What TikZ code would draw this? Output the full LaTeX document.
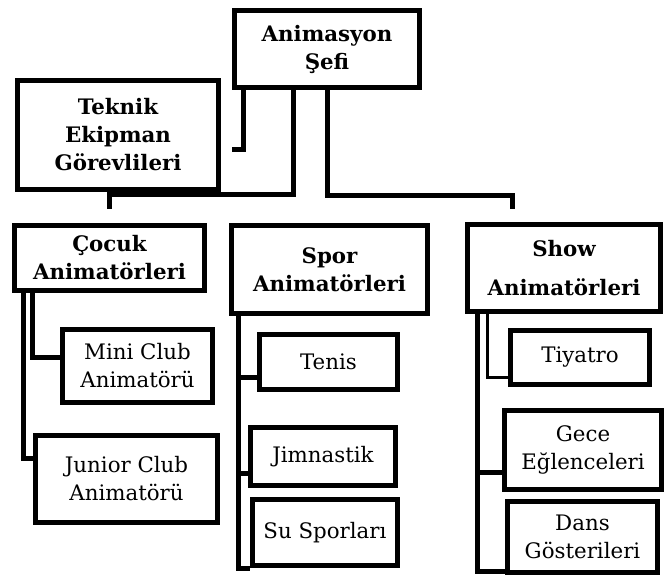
\documentclass[tikz,border=0pt]{standalone}
\usepackage{fontspec}
\setmainfont{DejaVu Serif}
\usetikzlibrary{calc}

\begin{document}
\begin{tikzpicture}[
    x=0.75pt, y=-0.75pt,
    box/.style={draw, rectangle, line width=3.75pt, inner sep=0pt,
                align=center, font=\fontsize{16pt}{21pt}\selectfont},
    unit/.style={box, font=\fontsize{16pt}{21pt}\selectfont\bfseries},
    team/.style={box},
    link/.style={line width=3.75pt},
    thinlink/.style={line width=2.25pt},
]
\useasboundingbox (0,0) rectangle (664,577);

% ============================================================
% Top level
% ============================================================
\node[unit, minimum width=138.75pt, minimum height=57.75pt] (chef) at (327,49) {Animasyon\\Şefi};
\node[unit, minimum width=150.75pt, minimum height=81.75pt] (tech) at (118,135) {Teknik\\Ekipman\\Görevlileri};

% ============================================================
% Groups
% ============================================================
\node[unit, minimum width=142.5pt, minimum height=48.75pt] (cocuk) at (109.5,258) {Çocuk\\Animatörleri};
\node[unit, minimum width=147pt, minimum height=66pt] (spor) at (329.5,269.5) {Spor\\Animatörleri};
\node[unit, minimum width=144.75pt, minimum height=65.25pt] (show) at (564,268) {Show\\[8pt]Animatörleri};

% ============================================================
% Teams
% ============================================================
\node[team, minimum width=112.5pt, minimum height=54.75pt] (mini) at (137.5,366) {Mini Club\\Animatörü};
\node[team, minimum width=136.5pt, minimum height=65.25pt] (junior) at (126.5,479) {Junior Club\\Animatörü};

\node[team, minimum width=103.5pt, minimum height=41.25pt] (tenis) at (328.5,362) {Tenis};
\node[team, minimum width=108.75pt, minimum height=43.5pt] (jimn) at (323,456.5) {Jimnastik};
\node[team, minimum width=108.75pt, minimum height=49.5pt] (su) at (325,532.5) {Su Sporları};

\node[team, minimum width=104.25pt, minimum height=40.5pt] (tiyatro) at (580,357.5) {Tiyatro};
\node[team, minimum width=117.75pt, minimum height=59.25pt] (gece) at (583,450) {Gece\\Eğlenceleri};
\node[team, minimum width=112.5pt, minimum height=53.25pt] (dans) at (582.5,537) {Dans\\Gösterileri};

% ============================================================
% Links from the chef
% ============================================================
\coordinate (techtab) at ($(tech.east)+(11,15)$);
\draw[link] ($(chef.south)+(-84,0)$) |- (techtab);
\draw[link] ($(chef.south)+(-34,0)$) |- ($(cocuk.north)+(0,-28)$) -- ($(cocuk.north)+(0,-14)$);
\draw[link] (chef.south) |- ($(show.north)+(-52,-26)$) -- ($(show.north)+(-52,-13)$);

% ============================================================
% Links inside the groups
% ============================================================
\draw[link] ($(cocuk.south)+(-77.5,0)$) |- ($(mini.west)+(0,-9)$);
\draw[link] ($(cocuk.south)+(-86.5,0)$) |- ($(junior.west)+(0,-21)$);

\coordinate (sporrail) at ($(spor.south)+(-91.5,0)$);
\draw[link] (sporrail) |- ($(tenis.west)+(0,15)$);
\draw[link] (sporrail) |- ($(jimn.west)+(0,16.5)$);
\draw[link] (sporrail) |- (su.south west);

\coordinate (showrail) at ($(show.south)+(-87,0)$);
\draw[thinlink] ($(show.south)+(-77,0)$) |- ($(tiyatro.west)+(0,19.5)$);
\draw[link] (showrail) |- ($(gece.west)+(0,22)$);
\draw[link] (showrail) |- ($(dans.south west)+(0,-4)$);

\end{tikzpicture}
\end{document}
